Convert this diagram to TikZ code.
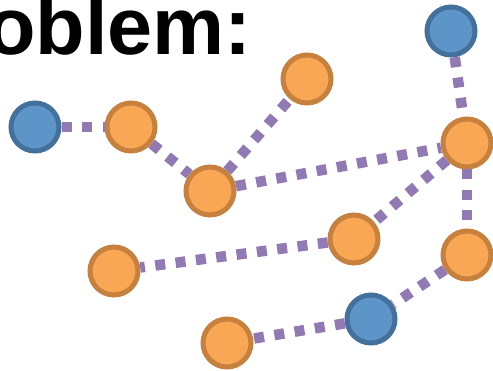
\documentclass[tikz,border=0pt]{standalone}
\usepackage{fontspec}
\setmainfont{Liberation Sans}
\usetikzlibrary{positioning}
\definecolor{hostcol}{HTML}{5E95C8}
\definecolor{hostedge}{HTML}{44709C}
\definecolor{relaycol}{HTML}{F9A655}
\definecolor{relayedge}{HTML}{C7813E}
\definecolor{linkcol}{HTML}{917AB4}
\tikzset{
  hnode/.style={circle, draw=hostedge, fill=hostcol, line width=5pt, minimum size=48pt, inner sep=0pt},
  rnode/.style={circle, draw=relayedge, fill=relaycol, line width=5pt, minimum size=48pt, inner sep=0pt},
  link/.style={draw=linkcol, line width=10.5pt, dash pattern=on 10pt off 10.5pt},
}

\begin{document}
\begin{tikzpicture}[x=1pt, y=-1pt]
  \useasboundingbox (0,0) rectangle (493,371);
  \clip (0,0) rectangle (493,371);
  % heading, cut at the left edge
  \node[anchor=base east, inner sep=0pt, font=\fontsize{81}{90}\selectfont\bfseries] (title) at (252,55) {oblem:};
  % end hosts
  \node[hnode] (H1) at (35,127) {};
  \node[hnode] (H2) at (451,31) {};
  \node[hnode] (H3) at (371,319) {};
  % relays
  \node[rnode] (R1) at (131,127) {};
  \node[rnode] (R2) at (307,79) {};
  \node[rnode] (R3) at (210,191) {};
  \node[rnode] (R4) at (467,143) {};
  \node[rnode] (R5) at (354,239) {};
  \node[rnode] (R6) at (467,255) {};
  \node[rnode] (R7) at (114,271) {};
  \node[rnode] (R8) at (227,343) {};
  % links
  \draw[link] (H1) -- (R1);
  \draw[link] (R1) -- (R3);
  \draw[link] (R3) -- (R2);
  \draw[link] (R3) -- (R4);
  \draw[link] (H2) -- (R4);
  \draw[link] (R4) -- (R5);
  \draw[link] (R4) -- (R6);
  \draw[link] (R5) -- (R7);
  \draw[link] (R6) -- (H3);
  \draw[link] (H3) -- (R8);
\end{tikzpicture}
\end{document}
